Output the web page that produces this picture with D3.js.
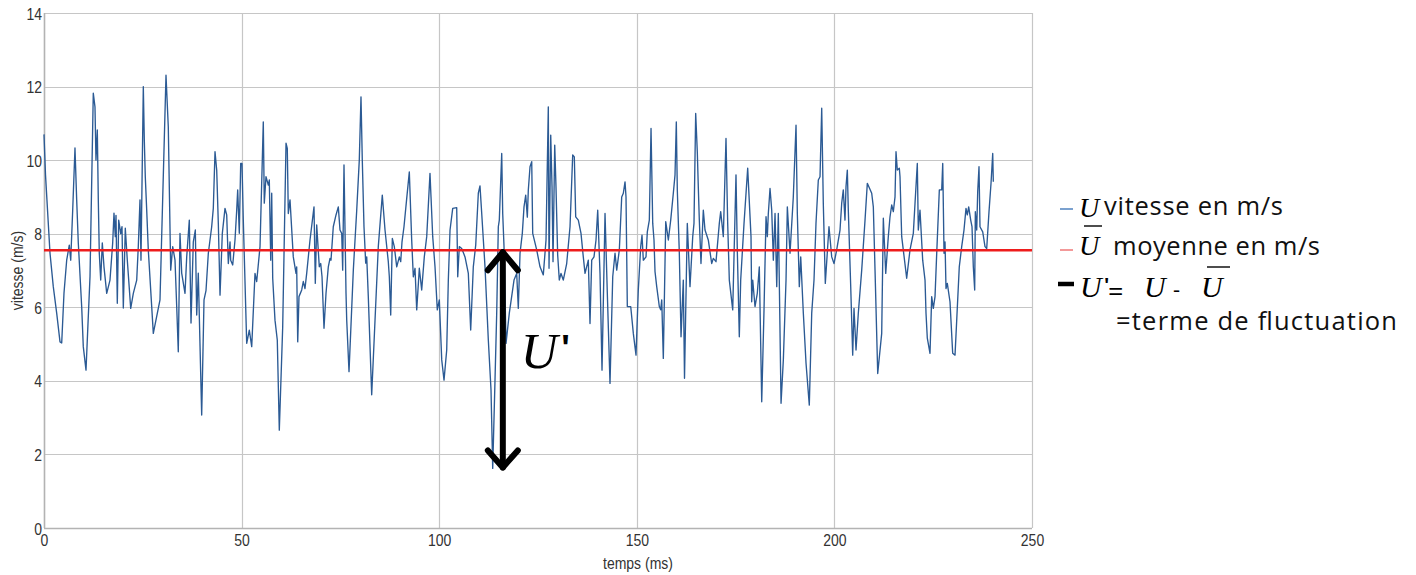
<!DOCTYPE html>
<html>
<head>
<meta charset="utf-8">
<script src="https://cdn.jsdelivr.net/npm/d3@7"></script>
<style>
  html, body { margin: 0; padding: 0; background: #ffffff; }
  svg { display: block; }
</style>
</head>
<body>
<svg id="chart" width="1416" height="575"></svg>
<script>
// Instantaneous wind speed record (time in ms, speed in m/s)
const times = [
  0, 0.38, 1.52, 2.35, 3.21, 4.05, 4.48, 5.06, 5.74, 6.40, 6.76, 7.26, 7.84, 8.27, 8.68, 9.54, 9.94, 10.63, 11.64, 12.47,
  12.90, 13.15, 13.49, 13.74, 13.99, 14.35, 14.75, 15.18, 15.87, 16.70, 17.38, 17.71, 18.04, 18.22, 18.55, 18.90, 19.41, 19.74, 20.07, 20.57,
  21.08, 21.94, 22.60, 23.46, 23.86, 24.29, 24.54, 25.13, 25.38, 25.63, 25.99, 26.39, 27.66, 29.35, 30.87, 31.45, 32.06, 32.57, 33.15, 33.58,
  33.98, 34.41, 34.84, 35.68, 36.11, 36.77, 37.20, 37.78, 38.29, 38.64, 39.04, 39.90, 40.49, 40.99, 41.58, 42.43, 42.84, 43.27, 43.70, 44.11,
  44.54, 45.12, 45.80, 46.23, 46.64, 47.07, 47.24, 47.75, 48.33, 48.76, 49.01, 49.42, 49.77, 50.10, 50.43, 51.29, 51.95, 52.56, 53.39, 53.82,
  54.66, 55.49, 55.74, 56.17, 56.76, 57.01, 57.37, 57.62, 57.87, 58.45, 59.03, 59.54, 60.40, 61.24, 61.56, 61.82, 62.25, 63.08, 63.77, 63.94,
  64.20, 64.52, 65.21, 65.61, 66.04, 66.47, 67.31, 68.32, 68.65, 69.00, 69.66, 70.02, 70.35, 70.85, 71.36, 71.94, 72.37, 72.62, 73.20, 73.89,
  74.47, 74.90, 75.33, 75.58, 75.91, 76.42, 76.60, 77.18, 78.27, 79.13, 79.78, 80.21, 80.54, 80.97, 81.40, 81.66, 82.06, 82.92, 83.76, 84.59,
  85.60, 86.29, 87.12, 87.38, 87.73, 88.14, 88.64, 89.25, 89.91, 90.26, 90.59, 91.09, 91.78, 92.44, 93.04, 93.45, 93.88, 94.31, 94.97, 95.57,
  96.23, 96.84, 97.67, 97.93, 98.36, 98.94, 99.52, 100.03, 100.64, 101.22, 101.90, 102.31, 102.74, 103.42, 104.43, 104.69, 105.09, 105.70, 106.53, 107.37,
  107.97, 108.63, 109.24, 109.90, 110.32, 110.76, 111.59, 112.43, 113.11, 113.54, 114.12, 114.55, 114.96, 115.21, 115.82, 116.07, 116.40, 116.91, 117.74, 118.93,
  119.61, 120.02, 120.45, 121.03, 121.46, 121.89, 122.30, 122.55, 122.98, 123.41, 123.66, 124.67, 125.51, 126.34, 127.03, 127.61, 127.79, 128.22, 128.55, 128.80,
  129.23, 129.55, 129.98, 130.39, 130.82, 131.40, 132.26, 133.10, 133.78, 134.19, 134.54, 135.20, 135.88, 136.46, 136.90, 137.73, 138.16, 138.59, 139.17, 139.68,
  140.11, 140.69, 141.20, 141.96, 142.54, 143.22, 143.91, 144.49, 144.92, 145.58, 146.18, 146.59, 147.02, 147.27, 147.60, 148.46, 149.12, 149.80, 150.38, 150.99,
  151.32, 151.65, 152.33, 152.66, 153.17, 153.60, 154.03, 154.35, 154.61, 155.04, 155.70, 156.05, 156.31, 156.71, 157.32, 157.98, 158.58, 159.24, 159.67, 160.00,
  160.25, 160.76, 161.19, 161.77, 162.07, 162.78, 163.46, 164.15, 164.47, 164.90, 165.31, 165.56, 165.82, 166.24, 166.83, 167.26, 168.09, 168.95, 169.36, 170.04,
  170.88, 171.23, 171.89, 172.57, 173.00, 173.41, 174.27, 175.10, 175.43, 175.94, 176.29, 177.13, 178.06, 178.90, 179.07, 179.33, 179.91, 180.49, 181.00, 181.61,
  182.19, 182.70, 183.03, 183.28, 183.71, 184.14, 184.55, 184.98, 185.41, 185.81, 186.50, 187.08, 187.76, 188.09, 188.77, 189.60, 190.29, 190.62, 191.12, 191.48,
  192.14, 192.82, 193.65, 194.26, 194.84, 195.34, 195.93, 196.36, 196.79, 197.19, 197.70, 198.63, 199.32, 199.90, 200.58, 201.42, 201.85, 202.25, 202.68, 202.94,
  203.27, 203.52, 204.13, 204.63, 204.96, 205.47, 206.05, 206.91, 207.75, 208.33, 209.44, 209.85, 210.28, 210.96, 211.97, 212.38, 212.99, 213.64, 214.07, 214.50,
  214.91, 215.34, 215.59, 215.92, 216.43, 216.60, 217.03, 218.29, 219.13, 219.97, 220.40, 220.98, 221.23, 221.66, 222.34, 222.93, 223.18, 223.51, 224.19, 224.62,
  225.03, 225.46, 225.89, 226.55, 227.15, 227.41, 227.74, 227.99, 228.24, 228.57, 229.25, 229.93, 230.52, 230.95, 231.60, 232.21, 232.79, 233.30, 233.63, 233.98,
  234.49, 234.82, 235.15, 235.50, 235.66, 236.01, 236.26, 236.59, 236.84, 237.53, 238.11, 238.54, 239.12, 239.63, 240.06, 240.21
];
const speeds = [
  10.70, 9.60, 7.47, 6.56, 5.84, 5.06, 5.03, 6.39, 7.28, 7.69, 7.28, 8.64, 10.33, 8.92, 7.75, 6.01, 4.93, 4.29, 6.83, 11.82,
  11.45, 10.00, 10.82, 8.92, 7.47, 6.74, 7.75, 7.10, 6.38, 6.74, 7.75, 8.56, 7.92, 8.50, 6.11, 8.37, 8.00, 8.19, 5.98, 8.15,
  7.28, 5.97, 6.38, 6.74, 7.65, 8.92, 7.28, 12.00, 10.55, 9.55, 8.64, 7.56, 5.29, 6.20, 12.31, 10.91, 7.01, 7.65, 7.28, 6.02,
  4.79, 8.01, 6.93, 6.38, 7.37, 8.37, 5.57, 7.78, 8.10, 5.79, 6.93, 3.07, 6.20, 6.45, 7.47, 8.19, 8.69, 10.23, 9.73, 8.28,
  6.33, 8.01, 8.69, 8.51, 7.19, 7.78, 7.28, 7.15, 7.83, 8.64, 9.19, 8.01, 9.91, 9.91, 8.37, 5.02, 5.38, 4.93, 6.92, 6.70,
  7.65, 11.04, 8.83, 9.55, 9.32, 9.46, 7.28, 9.10, 6.79, 5.65, 5.11, 2.66, 5.47, 10.46, 10.32, 8.55, 8.92, 7.37, 6.92, 7.10,
  5.06, 6.29, 6.47, 6.70, 6.51, 6.92, 7.83, 8.73, 6.65, 8.24, 7.10, 7.19, 6.83, 5.43, 6.38, 7.10, 7.33, 7.28, 8.19, 8.51,
  8.73, 8.10, 8.01, 7.01, 9.87, 6.38, 5.65, 4.25, 7.01, 8.64, 10.00, 11.72, 10.00, 8.19, 7.20, 7.37, 6.29, 3.62, 5.65, 7.65,
  9.05, 8.10, 7.24, 6.83, 5.79, 7.87, 7.65, 7.10, 7.37, 7.24, 7.78, 8.19, 8.96, 9.68, 7.83, 6.83, 7.06, 5.93, 7.06, 6.47,
  7.37, 7.92, 9.64, 9.00, 7.92, 7.10, 5.93, 6.20, 4.57, 4.02, 4.84, 6.74, 8.10, 8.69, 8.71, 6.83, 7.65, 7.60, 7.37, 6.92,
  5.38, 7.10, 7.69, 9.10, 9.30, 8.55, 7.10, 5.11, 3.75, 1.62, 4.02, 5.84, 8.19, 8.37, 10.18, 8.55, 7.65, 5.02, 5.84, 6.74,
  6.92, 5.97, 7.47, 8.01, 8.73, 9.05, 8.45, 9.19, 9.82, 9.96, 8.01, 7.56, 7.10, 6.88, 7.83, 11.45, 7.06, 10.68, 9.28, 7.24,
  10.41, 9.28, 7.42, 6.74, 6.92, 6.74, 7.19, 8.19, 10.14, 10.09, 8.46, 8.37, 8.01, 7.37, 6.92, 7.28, 5.56, 7.28, 7.37, 7.83,
  8.64, 6.92, 4.29, 8.55, 6.38, 3.93, 6.83, 7.47, 7.01, 7.56, 9.00, 9.10, 9.41, 9.00, 6.02, 6.02, 5.29, 4.70, 6.47, 7.65,
  7.96, 7.28, 7.37, 8.05, 8.37, 10.86, 8.28, 7.83, 6.97, 6.56, 6.02, 5.93, 6.20, 4.61, 8.33, 7.83, 8.37, 9.10, 9.60, 11.04,
  9.19, 7.47, 5.20, 6.74, 4.07, 8.28, 6.56, 7.92, 8.28, 11.27, 10.23, 9.28, 8.37, 7.19, 8.64, 8.10, 7.83, 7.19, 7.33, 7.24,
  8.28, 8.60, 7.92, 10.59, 8.28, 6.74, 5.93, 9.60, 7.56, 5.20, 6.74, 8.28, 9.78, 7.92, 6.15, 6.74, 6.02, 6.38, 7.10, 3.43,
  5.93, 8.46, 7.92, 8.55, 9.23, 8.64, 7.28, 8.55, 6.56, 8.55, 3.39, 4.57, 6.74, 8.73, 7.47, 9.00, 10.95, 8.55, 6.56, 7.37,
  5.84, 4.48, 3.34, 5.84, 6.74, 8.28, 9.46, 9.55, 11.41, 8.83, 6.65, 8.19, 7.37, 7.19, 7.56, 8.10, 8.83, 9.19, 8.37, 9.28,
  9.73, 8.64, 6.56, 4.70, 5.97, 4.84, 5.84, 7.01, 8.37, 9.37, 9.10, 8.73, 7.01, 4.20, 5.29, 8.42, 6.92, 7.92, 8.46, 8.78,
  8.60, 9.00, 10.23, 9.73, 9.78, 9.55, 7.92, 6.79, 7.56, 8.01, 8.83, 9.91, 8.10, 8.64, 7.28, 6.74, 5.84, 5.16, 4.75, 6.29,
  5.97, 6.29, 7.47, 9.19, 9.19, 9.91, 7.47, 7.78, 6.51, 6.65, 6.15, 4.75, 4.70, 5.65, 7.10, 7.65, 8.10, 8.69, 8.51, 8.73,
  8.37, 8.19, 7.10, 6.47, 8.60, 8.10, 9.14, 9.82, 8.19, 8.05, 7.65, 7.60, 8.60, 9.37, 10.18, 9.41
];
// Mean speed over the record
const meanSpeed = 7.55;
// Time at which the fluctuation U' is illustrated
const fluctuationTime = 116.1;

const xTicks = [0, 50, 100, 150, 200, 250];
const yTicks = [0, 2, 4, 6, 8, 10, 12, 14];
const xTitle = "temps (ms)";
const yTitle = "vitesse (m/s)";

const svg = d3.select("#chart");
const margin = { left: 44, top: 13 };
const plotW = 988, plotH = 515;

const x = d3.scaleLinear().domain([0, 250]).range([margin.left, margin.left + plotW]);
const y = d3.scaleLinear().domain([0, 14]).range([margin.top + plotH, margin.top]);

const gridColor = "#c6c6c6";
const tickFont = "'Liberation Sans', Arial, sans-serif";
const tickSize = 14;
const stretch = 1.22; // tall, narrow axis lettering

// Grid
svg.append("g").selectAll("line").data(yTicks).join("line")
  .attr("x1", x(0)).attr("x2", x(250))
  .attr("y1", d => Math.round(y(d)) + 0.5).attr("y2", d => Math.round(y(d)) + 0.5)
  .attr("stroke", gridColor).attr("stroke-width", 1.2);
svg.append("g").selectAll("line").data(xTicks).join("line")
  .attr("x1", d => Math.round(x(d)) + 0.5).attr("x2", d => Math.round(x(d)) + 0.5)
  .attr("y1", y(14)).attr("y2", y(0))
  .attr("stroke", gridColor).attr("stroke-width", 1.2);

// Axis frame
svg.append("line").attr("x1", x(0)).attr("x2", x(250)).attr("y1", y(0) + 0.5).attr("y2", y(0) + 0.5)
  .attr("stroke", "#b3b3b3").attr("stroke-width", 1.5);
svg.append("line").attr("x1", x(0) + 0.5).attr("x2", x(0) + 0.5).attr("y1", y(14)).attr("y2", y(0))
  .attr("stroke", "#b3b3b3").attr("stroke-width", 1.5);

// Tick labels
const xAxis = svg.append("g").attr("transform", `translate(0,${y(0)})`)
  .call(d3.axisBottom(x).tickValues(xTicks).tickSize(0).tickPadding(0));
xAxis.select(".domain").remove();
xAxis.selectAll("text")
  .attr("y", 0).attr("dy", null)
  .attr("font-family", tickFont).attr("font-size", tickSize).attr("fill", "#333")
  .attr("transform", `translate(0,18) scale(1,${stretch})`);

const yAxis = svg.append("g").attr("transform", `translate(${x(0)},0)`)
  .call(d3.axisLeft(y).tickValues(yTicks).tickSize(0).tickPadding(0));
yAxis.select(".domain").remove();
yAxis.selectAll("text")
  .attr("x", 0).attr("dy", null)
  .attr("font-family", tickFont).attr("font-size", tickSize).attr("fill", "#333")
  .attr("transform", `translate(-2,6) scale(1,${stretch})`);

svg.append("text").attr("transform", `translate(638,569) scale(1,${stretch})`).attr("text-anchor", "middle")
  .attr("font-family", tickFont).attr("font-size", tickSize).attr("fill", "#333").text(xTitle);
svg.append("text").attr("transform", `translate(23,${y(7.0)}) rotate(-90) scale(1,${stretch})`).attr("text-anchor", "middle")
  .attr("font-family", tickFont).attr("font-size", tickSize).attr("fill", "#333").text(yTitle);

// Speed series
const series = times.map((t, i) => [t, speeds[i]]);
svg.append("path").datum(series)
  .attr("fill", "none").attr("stroke", "#2b5a94").attr("stroke-width", 1.35)
  .attr("stroke-linejoin", "round")
  .attr("d", d3.line().x(d => x(d[0])).y(d => y(d[1])));

// Mean line
svg.append("line").attr("x1", x(0)).attr("x2", x(250))
  .attr("y1", y(meanSpeed)).attr("y2", y(meanSpeed))
  .attr("stroke", "#ee1c1c").attr("stroke-width", 2.4);

// Fluctuation arrow: from the mean down to the lowest speed
const minSpeed = d3.min(speeds);
const ax = x(fluctuationTime);
const arrow = svg.append("g").attr("stroke", "#000").attr("stroke-width", 6)
  .attr("stroke-linecap", "round").attr("stroke-linejoin", "round").attr("fill", "none");
arrow.append("line").attr("x1", ax).attr("x2", ax).attr("y1", y(meanSpeed) + 2).attr("y2", y(minSpeed) - 1);
arrow.append("polyline").attr("points", `${ax - 15},${y(meanSpeed) + 20} ${ax},${y(meanSpeed) + 2} ${ax + 15},${y(meanSpeed) + 20}`);
arrow.append("polyline").attr("points", `${ax - 15},${y(minSpeed) - 18} ${ax},${y(minSpeed) - 1} ${ax + 15},${y(minSpeed) - 18}`);

const mathFont = "'Liberation Serif', 'DejaVu Serif', serif";
const textFont = "'Open Sans', 'Noto Sans', sans-serif";

svg.append("text").attr("x", ax + 18).attr("y", 368)
  .attr("font-family", mathFont).attr("font-style", "italic").attr("font-size", 51).attr("fill", "#000").text("U");
svg.append("text").attr("x", ax + 58).attr("y", 361)
  .attr("font-family", textFont).attr("font-weight", "bold").attr("font-size", 36).attr("fill", "#000").text("'");

// Legend
const lg = svg.append("g");
const lx = 1060;
const over = (x1, x2, yy) => lg.append("line").attr("x1", x1).attr("x2", x2).attr("y1", yy).attr("y2", yy)
  .attr("stroke", "#000").attr("stroke-width", 1.4);
const mathU = (xx, yy, fs) => lg.append("text").attr("x", xx).attr("y", yy).attr("font-family", mathFont)
  .attr("font-style", "italic").attr("font-size", fs).attr("fill", "#000").text("U");
const words = (xx, yy, s, w) => lg.append("text").attr("x", xx).attr("y", yy).attr("font-family", textFont)
  .attr("font-size", 25.5).attr("fill", "#111").attr("textLength", w).attr("lengthAdjust", "spacing").text(s);

// row 1: speed
lg.append("line").attr("x1", lx).attr("x2", lx + 13).attr("y1", 209).attr("y2", 209)
  .attr("stroke", "#5b8ac4").attr("stroke-width", 1.6);
mathU(1079, 217, 28);
words(1104, 215, "vitesse en m/s", 179);
// row 2: mean
lg.append("line").attr("x1", lx).attr("x2", lx + 13).attr("y1", 250).attr("y2", 250)
  .attr("stroke", "#f08080").attr("stroke-width", 1.6);
over(1084, 1102, 226);
mathU(1079, 255, 28);
words(1113, 255, "moyenne en m/s", 207);
// row 3: fluctuation
lg.append("line").attr("x1", lx - 2).attr("x2", lx + 14).attr("y1", 284).attr("y2", 284)
  .attr("stroke", "#000").attr("stroke-width", 4.5);
mathU(1080, 297, 30);
lg.append("text").attr("x", 1104).attr("y", 292).attr("font-family", textFont).attr("font-weight", "bold")
  .attr("font-size", 20).attr("fill", "#000").text("'");
lg.append("text").attr("x", 1108).attr("y", 301).attr("font-family", textFont)
  .attr("font-size", 27).attr("fill", "#000").text("=");
mathU(1144, 297, 30);
lg.append("text").attr("x", 1173).attr("y", 297).attr("font-family", textFont)
  .attr("font-size", 22).attr("fill", "#000").text("-");
mathU(1201, 297, 30);
over(1207, 1230, 267);
// row 4
words(1116, 330, "=terme de fluctuation", 281);
</script>
</body>
</html>
